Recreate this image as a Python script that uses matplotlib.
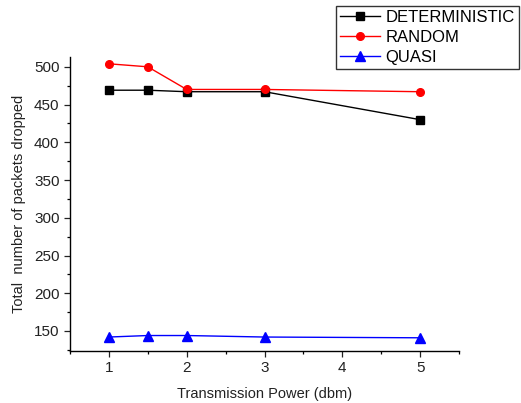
import matplotlib
matplotlib.use('Agg')
import matplotlib.pyplot as plt
from matplotlib.ticker import MultipleLocator

# Datos
potencia = [1, 1.5, 2, 3, 5]
deterministic = [469, 469, 467, 467, 430]
random_ = [504, 500, 470, 470, 467]
quasi = [142, 144, 144, 142, 141]

plt.rcParams['font.family'] = ['Liberation Sans', 'DejaVu Sans']

fig = plt.figure(figsize=(5.21, 4.03), dpi=100)
ax = fig.add_axes([70 / 521, 1 - 351 / 403, (459 - 70) / 521, (351 - 57) / 403])

ax.plot(potencia, deterministic, color='black', marker='s', markersize=5.5, lw=1, label='DETERMINISTIC')
ax.plot(potencia, random_, color='red', marker='o', markersize=5.5, lw=1, label='RANDOM')
ax.plot(potencia, quasi, color='blue', marker='^', markersize=6.5, lw=1, label='QUASI')

ax.set_xlim(0.5, 5.5)
ax.set_ylim(123.5, 513)
ax.set_xticks([1, 2, 3, 4, 5])
ax.xaxis.set_minor_locator(MultipleLocator(0.5))
ax.set_yticks(range(150, 501, 50))
ax.yaxis.set_minor_locator(MultipleLocator(25))
ax.tick_params(labelsize=11, colors='#222222', length=4, width=0.9)
ax.tick_params(which='minor', length=2.5, width=0.9)

for s in ['top', 'right']:
    ax.spines[s].set_visible(False)
for s in ['left', 'bottom']:
    ax.spines[s].set_linewidth(1.0)

ax.set_xlabel('Transmission Power (dbm)', fontsize=10.5, color='#222222', labelpad=8)
ax.set_ylabel('Total  number of packets dropped', fontsize=10.5, color='#222222', labelpad=6)

fig.legend(loc='upper left', bbox_to_anchor=(336 / 521, 1 - 6 / 403), fontsize=12,
           frameon=True, fancybox=False, edgecolor='black', handlelength=2.4,
           handletextpad=0.3, borderpad=0.25, labelspacing=0.3, borderaxespad=0)

plt.savefig('out.png', dpi=100)
plt.close()
